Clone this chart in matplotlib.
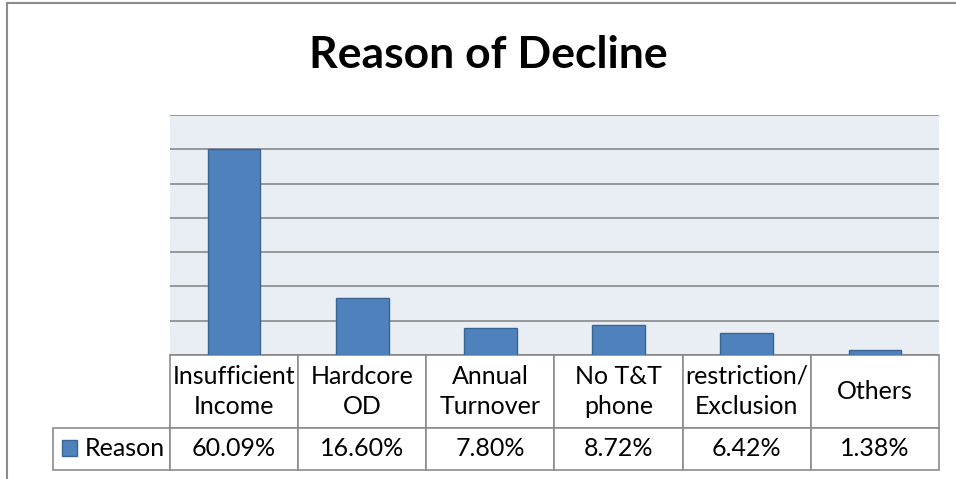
import matplotlib
matplotlib.use("Agg")
import matplotlib.pyplot as plt
from matplotlib.lines import Line2D

# data
categories = ["Insufficient\nIncome", "Hardcore\nOD", "Annual\nTurnover",
              "No T&T\nphone", "restriction/\nExclusion", "Others"]
values = [60.09, 16.60, 7.80, 8.72, 6.42, 1.38]
series_name = "Reason"
title = "Reason of Decline"

plt.rcParams['font.family'] = ['Lato', 'DejaVu Sans']

W, H = 956, 479
fig = plt.figure(figsize=(W / 100, H / 100), dpi=100)
ax = fig.add_axes([170 / W, 1 - 355 / H, 769 / W, 240 / H])
ax.set_facecolor('#E9EDF4')

x = range(len(values))
bars = ax.bar(x, values, width=0.41, color='#4F81BD', edgecolor='#3A6593',
              linewidth=1, zorder=3, label=series_name)
ax.set_xlim(-0.5, len(values) - 0.5)
ax.set_ylim(0, 70)
ax.set_yticks(range(0, 71, 10))
ax.yaxis.grid(True, color='#808080', linewidth=1.1)
ax.set_axisbelow(True)
ax.tick_params(left=False, bottom=False, labelleft=False, labelbottom=False)
for s in ax.spines.values():
    s.set_visible(False)

# data table under the plot (Excel style); first column holds the legend key
cell_text = [[""] + [f"{v:.2f}%" for v in values]]
tbl = ax.table(cellText=cell_text, colLabels=[""] + categories, cellLoc='center',
               bbox=[-117 / 769, -115 / 240, 886 / 769, 115 / 240])
tbl.auto_set_font_size(False)
tbl.set_fontsize(18)
for (r, c), cell in tbl.get_celld().items():
    cell.set_edgecolor('#8C8C8C')
    cell.set_linewidth(1.2)
    cell.set_width(117 if c == 0 else 128.2)
    cell.set_height(73 if r == 0 else 42)
    if r == 0:
        cell.get_text().set_linespacing(1.4)
tbl[0, 0].visible_edges = 'open'

ax.legend(handles=[bars], loc='center left',
          bbox_to_anchor=((62 - 170) / 769, -(449 - 355) / 240),
          frameon=False, fontsize=18, handlelength=0.6, handleheight=0.6,
          handletextpad=0.3, borderpad=0, borderaxespad=0)

fig.text(488 / W, 1 - 55 / H, title, ha='center', va='center',
         fontsize=32, fontweight='bold')

# chart area border (left and top visible)
fig.add_artist(Line2D([7 / W, 7 / W], [0, 1 - 3 / H], transform=fig.transFigure,
                      color='#8C8C8C', lw=1.5))
fig.add_artist(Line2D([7 / W, 1], [1 - 3 / H, 1 - 3 / H], transform=fig.transFigure,
                      color='#8C8C8C', lw=1.5))

fig.savefig('out.png', dpi=100)
